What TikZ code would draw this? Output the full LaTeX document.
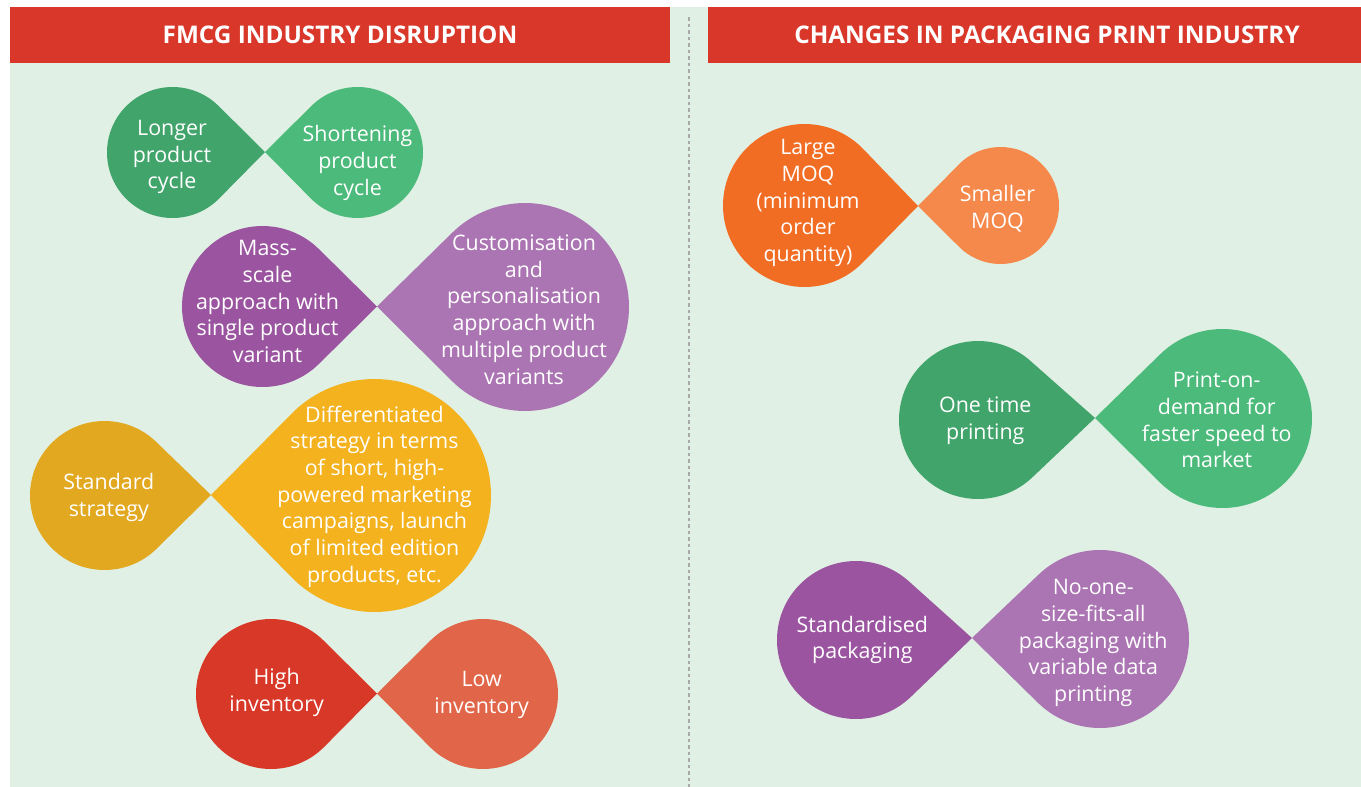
\documentclass[tikz,border=0pt]{standalone}
\usepackage{fontspec}
\setmainfont{Open Sans}
\usetikzlibrary{calc}
\definecolor{bgGreen}{HTML}{E0F0E4}
\definecolor{hdrRed}{HTML}{D9372A}
\definecolor{dkGreen}{HTML}{41A46B}
\definecolor{ltGreen}{HTML}{4BBA7A}
\definecolor{dkPurple}{HTML}{9B55A0}
\definecolor{ltPurple}{HTML}{AB74B2}
\definecolor{dkGold}{HTML}{E1A820}
\definecolor{ltGold}{HTML}{F3B21E}
\definecolor{dkRed}{HTML}{D83828}
\definecolor{ltRed}{HTML}{E16548}
\definecolor{dkOrange}{HTML}{F26D24}
\definecolor{ltOrange}{HTML}{F5894B}
\definecolor{divGray}{HTML}{A9A9A9}
\newcommand\teardrop[6]{%
  \pgfmathsetmacro\tdA{atan2((#5)-(#2),(#4)-(#1))}%
  \pgfmathsetmacro\tdD{10*sqrt((((#4)-(#1))/10)^2+(((#5)-(#2))/10)^2)}%
  \pgfmathsetmacro\tdP{acos(min(1,(#3)/\tdD))}%
  \fill[#6] (#4,#5) -- ($(#1,#2)+(\tdA+\tdP:#3)$)
    arc[start angle=\tdA+\tdP, end angle=\tdA+360-\tdP, radius=#3] -- cycle;}
\tikzset{
  lbl/.style={text=white, align=center, inner sep=0pt, font=\fontsize{21.4}{26.7}\selectfont},
  hdr/.style={text=white, inner sep=0pt, font=\fontsize{24.3}{28}\selectfont\bfseries},
  hdrbar/.style={fill=hdrRed},
  divider/.style={draw=divGray, line width=1.3pt, dash pattern=on 3.5pt off 3pt}
}
\begin{document}
\begin{tikzpicture}[x=1pt,y=-1pt]
\useasboundingbox (0,0) rectangle (1361,787);
\fill[white] (0,0) rectangle (1361,787);
\fill[bgGreen] (10,7) rectangle (1361,787);
\fill[hdrbar] (10,7) rectangle (670,63);
\fill[hdrbar] (708,7) rectangle (1361,63);
\coordinate (divtop) at (689,17);
\coordinate (divbot) at (689,787);
\draw[divider] (divtop) -- (divbot);
\node[hdr] (hL) at (340,35) {FMCG INDUSTRY DISRUPTION};
\node[hdr] (hR) at (1047,35) {CHANGES IN PACKAGING PRINT INDUSTRY};
% left panel
\teardrop{172.5}{152.5}{65.5}{265}{152}{dkGreen}
\teardrop{357.5}{152.5}{65.5}{265}{152}{ltGreen}
\teardrop{262.5}{306.5}{80.5}{377}{306.5}{dkPurple}
\teardrop{525}{307}{104}{377}{306.5}{ltPurple}
\teardrop{104.5}{495.5}{74.5}{211}{495}{dkGold}
\teardrop{374.5}{495.5}{116.5}{211}{495}{ltGold}
\teardrop{271}{694}{75}{377}{693.5}{dkRed}
\teardrop{483}{694}{75}{377}{693.5}{ltRed}
% right panel
\teardrop{804.5}{205.5}{81.5}{918}{206}{dkOrange}
\teardrop{1000.5}{205.5}{58.5}{918}{206}{ltOrange}
\teardrop{978}{420}{79}{1095}{418}{dkGreen}
\teardrop{1222.5}{418.5}{89.5}{1095}{418}{ltGreen}
\teardrop{856}{640}{79}{972}{638}{dkPurple}
\teardrop{1100}{639}{89}{972}{638}{ltPurple}
% labels
\node[lbl] (t1) at (172,157) {Longer\\product\\cycle};
\node[lbl] (t2) at (357.5,163) {Shortening\\product\\cycle};
\node[lbl] (t3) at (267.5,301.5) {Mass-\\scale\\approach with\\single product\\variant};
\node[lbl] (t4) at (524,309.5) {Customisation\\and\\personalisation\\approach with\\multiple product\\variants};
\node[lbl] (t5) at (108.8,497.5) {Standard\\strategy};
\node[lbl] (t6) at (374.5,496.5) {Differentiated\\strategy in terms\\of short, high-\\powered marketing\\campaigns, launch\\of limited edition\\products, etc.};
\node[lbl] (t7) at (276.7,692.5) {High\\inventory};
\node[lbl] (t8) at (481.7,695) {Low\\inventory};
\node[lbl] (t9) at (808,203) {Large\\MOQ\\(minimum\\order\\quantity)};
\node[lbl] (t10) at (997.5,209) {Smaller\\MOQ};
\node[lbl] (t11) at (985.3,420.5) {One time\\printing};
\node[lbl] (t12) at (1216.7,420) {Print-on-\\demand for\\faster speed to\\market};
\node[lbl] (t13) at (862.3,640) {Standardised\\packaging};
\node[lbl] (t14) at (1093.3,643) {No-one-\\size-fits-all\\packaging with\\variable data\\printing};
\end{tikzpicture}
\end{document}
